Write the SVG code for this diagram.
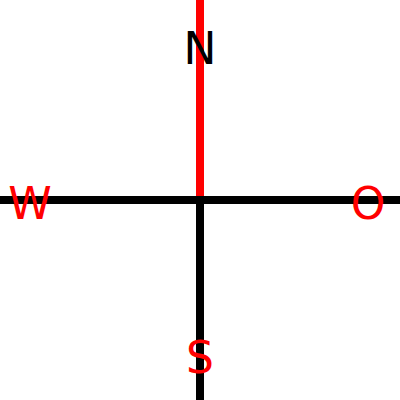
<svg xmlns="http://www.w3.org/2000/svg" width="400" height="400" viewBox="0 0 400 400">
<style>
.l{stroke-width:8;fill:none}
.t{font-family:"DejaVu Sans",sans-serif;font-size:44px;text-anchor:middle}
</style>
<rect width="400" height="400" fill="#fff"/>
<g id="connectors">
<line class="l" x1="200" y1="0" x2="200" y2="200" stroke="#f00"/>
<line class="l" x1="0" y1="200" x2="400" y2="200" stroke="#000"/>
<line class="l" x1="200" y1="200" x2="200" y2="400" stroke="#000"/>
</g>
<g id="N"><text class="t" x="200" y="64" fill="#000">N</text></g>
<g id="W"><text class="t" x="30" y="219" fill="#f00">W</text></g>
<g id="O"><text class="t" x="368" y="219" fill="#f00">O</text></g>
<g id="S"><text class="t" x="200" y="373" fill="#f00">S</text></g>
</svg>
